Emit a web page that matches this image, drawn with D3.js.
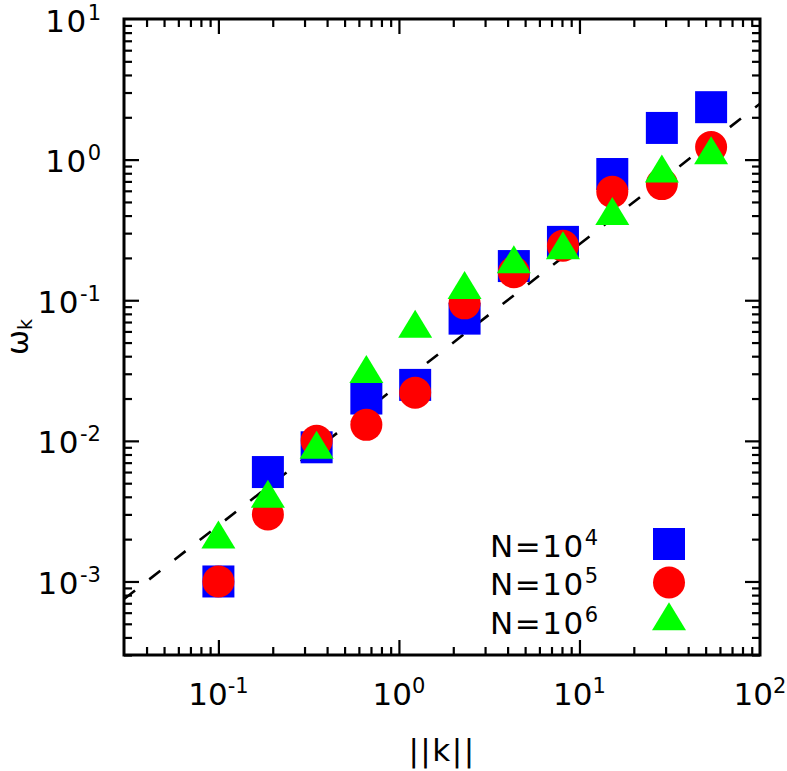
<!DOCTYPE html>
<html>
<head>
<meta charset="utf-8">
<script src="https://cdn.jsdelivr.net/npm/d3@7"></script>
<style>
  html, body { margin: 0; padding: 0; background: #fff; }
  svg { display: block; }
  text { font-family: "DejaVu Sans", sans-serif; fill: #000; }
</style>
</head>
<body>
<svg id="chart" width="787" height="771"></svg>
<script>
// ---- data ----
const kValues = [0.1, 0.188, 0.35, 0.66, 1.23, 2.31, 4.33, 8.1, 15.2, 28.6, 53.6];
const omegaN4 = [0.001, 0.006, 0.009, 0.020, 0.025, 0.074, 0.175, 0.26, 0.79, 1.68, 2.36];
const omegaN5 = [0.001, 0.003, 0.010, 0.013, 0.022, 0.095, 0.158, 0.244, 0.59, 0.67, 1.23];
const omegaN6 = [0.002, 0.0039, 0.0087, 0.030, 0.063, 0.119, 0.181, 0.228, 0.40, 0.80, 1.08];
const seriesNames = ["4", "5", "6"];           // exponents in N=10^x
const seriesColors = ["#0000ff", "#ff0000", "#00ff00"];
const seriesShapes = ["square", "circle", "triangle"];
const fitX = [0.03, 100];
const fitCoef = 0.025;                        // omega = 0.025 * k
const xMajorExp = [-1, 0, 1, 2];
const yMajorExp = [-3, -2, -1, 0, 1];
const xDomain = [0.03, 100];
const yDomain = [3e-4, 10];

// ---- layout ----
const L = 124, R = 760, T = 19, B = 655;
const svg = d3.select("#chart");
const x = d3.scaleLog().domain(xDomain).range([L, R]);
const y = d3.scaleLog().domain(yDomain).range([B, T]);

function minorTicks(domain) {
  const out = [];
  const lo = Math.floor(Math.log10(domain[0])), hi = Math.ceil(Math.log10(domain[1]));
  for (let e = lo; e <= hi; e++) for (let m = 2; m <= 9; m++) {
    const v = m * Math.pow(10, e);
    if (v > domain[0] && v < domain[1]) out.push(v);
  }
  return out;
}
const xMinor = minorTicks(xDomain), yMinor = minorTicks(yDomain);
const xMajor = xMajorExp.map(e => Math.pow(10, e)).filter(v => v > xDomain[0] && v < xDomain[1]);
const yMajor = yMajorExp.map(e => Math.pow(10, e)).filter(v => v < yDomain[1]);

const MAJ = 15, MIN = 8;
function styleAxis(g) {
  g.select(".domain").remove();
  g.selectAll(".tick line").attr("stroke", "#000").attr("stroke-width", 2.2);
}
// ticks on all four sides, pointing inward
svg.append("g").attr("transform", `translate(0,${B})`).call(d3.axisBottom(x).tickValues(xMinor).tickSize(-MIN).tickFormat("")).call(styleAxis);
svg.append("g").attr("transform", `translate(0,${B})`).call(d3.axisBottom(x).tickValues(xMajor).tickSize(-MAJ).tickFormat("")).call(styleAxis);
svg.append("g").attr("transform", `translate(0,${T})`).call(d3.axisTop(x).tickValues(xMinor).tickSize(-MIN).tickFormat("")).call(styleAxis);
svg.append("g").attr("transform", `translate(0,${T})`).call(d3.axisTop(x).tickValues(xMajor).tickSize(-MAJ).tickFormat("")).call(styleAxis);
svg.append("g").attr("transform", `translate(${L},0)`).call(d3.axisLeft(y).tickValues(yMinor).tickSize(-MIN).tickFormat("")).call(styleAxis);
svg.append("g").attr("transform", `translate(${L},0)`).call(d3.axisLeft(y).tickValues(yMajor).tickSize(-MAJ).tickFormat("")).call(styleAxis);
svg.append("g").attr("transform", `translate(${R},0)`).call(d3.axisRight(y).tickValues(yMinor).tickSize(-MIN).tickFormat("")).call(styleAxis);
svg.append("g").attr("transform", `translate(${R},0)`).call(d3.axisRight(y).tickValues(yMajor).tickSize(-MAJ).tickFormat("")).call(styleAxis);

// tick labels with superscripts
const FS = 31, SFS = 21, SUP = -12, LS = 1.5;
function powLabel(sel, exp, ls) {
  sel.append("tspan").attr("letter-spacing", ls).text("10");
  sel.append("tspan").attr("dy", SUP).attr("font-size", SFS).text(String(exp));
}
xMajorExp.forEach(e => {
  const t = svg.append("text").attr("x", x(Math.pow(10, e))).attr("y", 705)
    .attr("text-anchor", "middle").attr("font-size", FS);
  powLabel(t, e, 0);
});
yMajorExp.forEach(e => {
  const t = svg.append("text").attr("x", 101).attr("y", y(Math.pow(10, e)) + 12.5)
    .attr("text-anchor", "end").attr("font-size", FS);
  powLabel(t, e, LS);
});

// axis titles
svg.append("text").attr("x", (L + R) / 2).attr("y", 761).attr("text-anchor", "middle")
  .attr("font-size", FS).attr("letter-spacing", LS).text("||k||");
const yt = svg.append("text").attr("transform", `translate(28,${(T + B) / 2}) rotate(-90)`)
  .attr("text-anchor", "middle").attr("font-size", 30);
yt.append("tspan").text("ω");
yt.append("tspan").attr("dy", 4).attr("font-size", 19).text("k");

// fit line (dashed), clipped to plot area
svg.append("clipPath").attr("id", "clip").append("rect")
  .attr("x", L).attr("y", T).attr("width", R - L).attr("height", B - T);
svg.append("path")
  .datum(fitX)
  .attr("clip-path", "url(#clip)")
  .attr("d", d3.line().x(d => x(d)).y(d => y(fitCoef * d)))
  .attr("fill", "none").attr("stroke", "#000").attr("stroke-width", 2.6)
  .attr("stroke-dasharray", "14,18");

// markers
const SQ = 32, CR = 16, TW = 34, TH = 28;
function drawMarker(g, shape, cx, cy, color) {
  if (shape === "square") {
    g.append("rect").attr("x", cx - SQ / 2).attr("y", cy - SQ / 2).attr("width", SQ).attr("height", SQ).attr("fill", color);
  } else if (shape === "circle") {
    g.append("circle").attr("cx", cx).attr("cy", cy).attr("r", CR).attr("fill", color);
  } else {
    const p = d3.path();
    p.moveTo(cx, cy - TH * 2 / 3);
    p.lineTo(cx - TW / 2, cy + TH / 3);
    p.lineTo(cx + TW / 2, cy + TH / 3);
    p.closePath();
    g.append("path").attr("d", p.toString()).attr("fill", color);
  }
}
const allSeries = [omegaN4, omegaN5, omegaN6];
const mg = svg.append("g");
allSeries.forEach((vals, si) => {
  vals.forEach((v, i) => drawMarker(mg, seriesShapes[si], x(kValues[i]), y(v), seriesColors[si]));
});

// legend
const legTextX = 598, legMarkX = 669, legY0 = 544, legDY = 38.5;
seriesNames.forEach((n, i) => {
  const cy = legY0 + i * legDY;
  const t = svg.append("text").attr("x", legTextX).attr("y", cy + 12.5)
    .attr("text-anchor", "end").attr("font-size", FS);
  t.append("tspan").attr("letter-spacing", LS).text("N=10");
  t.append("tspan").attr("dy", SUP).attr("font-size", SFS).text(n);
  drawMarker(svg, seriesShapes[i], legMarkX, cy, seriesColors[i]);
});

// frame
svg.append("rect").attr("x", L).attr("y", T).attr("width", R - L).attr("height", B - T)
  .attr("fill", "none").attr("stroke", "#000").attr("stroke-width", 3);
</script>
</body>
</html>
